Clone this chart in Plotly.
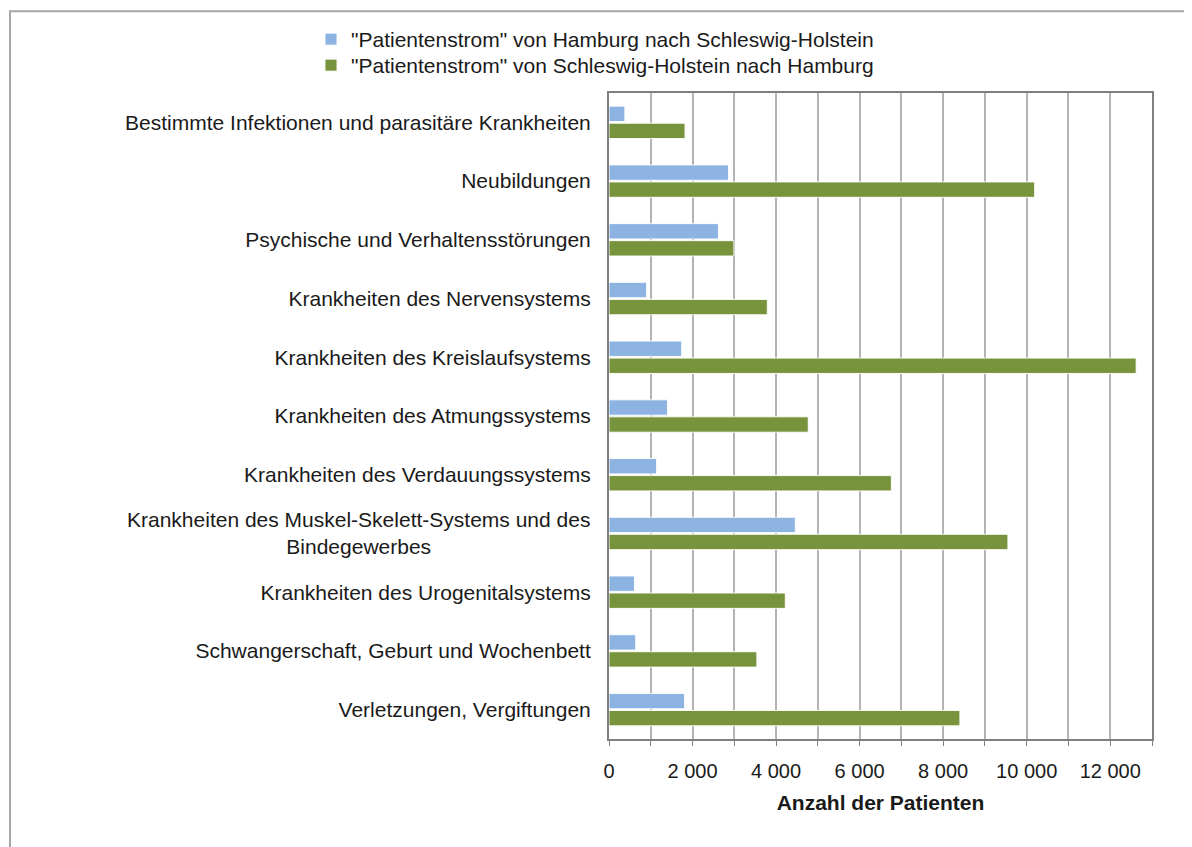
import plotly.graph_objects as go

categories = [
    "Bestimmte Infektionen und parasitäre Krankheiten",
    "Neubildungen",
    "Psychische und Verhaltensstörungen",
    "Krankheiten des Nervensystems",
    "Krankheiten des Kreislaufsystems",
    "Krankheiten des Atmungssystems",
    "Krankheiten des Verdauungssystems",
    "Krankheiten des Muskel-Skelett-Systems und des<br>Bindegewerbes",
    "Krankheiten des Urogenitalsystems",
    "Schwangerschaft, Geburt und Wochenbett",
    "Verletzungen, Vergiftungen",
]
hh_to_sh = [380, 2860, 2620, 900, 1740, 1400, 1140, 4460, 610, 640, 1810]
sh_to_hh = [1820, 10190, 2990, 3790, 12620, 4770, 6760, 9550, 4220, 3540, 8400]
series_names = [
    '"Patientenstrom" von Hamburg nach Schleswig-Holstein',
    '"Patientenstrom" von Schleswig-Holstein nach Hamburg',
]
x_title = "Anzahl der Patienten"

FONT = "Liberation Sans, Arial, sans-serif"
BLUE = "#8DB3E2"
GREEN = "#77933C"
TXT = "#1a1a1a"

# page offset (body margin) = 8 px
OFF = 8
W, H = 1192 - OFF, 847 - OFF
PL, PR, PT, PB = 609, 1152, 92, 739          # plot area in page pixels
L, T = PL - OFF, PT - OFF
R, B = W - (PR - OFF), H - (PB - OFF)
pw, ph = PR - PL, PB - PT


def px_x(page_x):
    return (page_x - PL) / pw


def px_y(page_y):
    return (PB - page_y) / ph


fig = go.Figure()
fig.add_trace(go.Bar(y=categories, x=hh_to_sh, orientation="h", name=series_names[0],
                     legend="legend",
                     marker=dict(color=BLUE, line=dict(color="rgba(255,255,255,0.9)", width=1))))
fig.add_trace(go.Bar(y=categories, x=sh_to_hh, orientation="h", name=series_names[1],
                     legend="legend2",
                     marker=dict(color=GREEN, line=dict(color="rgba(255,255,255,0.9)", width=1))))

multi = categories[7]
ticktext = ["" if c == multi else c for c in categories]

fig.add_annotation(x=0, y=multi, xref="paper", yref="y", text=multi, showarrow=False,
                   xanchor="right", yanchor="middle", xshift=-17, align="center",
                   font=dict(family=FONT, size=21, color=TXT))

fig.add_shape(type="rect", xref="paper", yref="paper",
              x0=px_x(10), x1=px_x(1230), y0=px_y(880), y1=px_y(10),
              line=dict(color="#a6a6a6", width=2), fillcolor="rgba(0,0,0,0)", layer="below")

legend_common = dict(xanchor="left", yanchor="top", bgcolor="rgba(0,0,0,0)",
                     font=dict(family=FONT, size=21, color=TXT))

fig.update_layout(
    width=W, height=H,
    margin=dict(l=L, r=R, t=T, b=B),
    paper_bgcolor="white", plot_bgcolor="white",
    barmode="group", bargap=0.42, bargroupgap=0.1,
    separators=", ",
    font=dict(family=FONT, size=21, color=TXT),
    showlegend=True,
    legend=dict(x=px_x(311), y=px_y(19), **legend_common),
    legend2=dict(x=px_x(311), y=px_y(45), **legend_common),
)
fig.update_xaxes(
    range=[0, 13000], tick0=0, dtick=2000, tickformat=",d",
    showgrid=True, gridcolor="#b3b3b3", gridwidth=1.5,
    minor=dict(dtick=1000, showgrid=True, gridcolor="#b3b3b3", gridwidth=1.5,
               ticks="outside", ticklen=5, tickcolor="#808080"),
    ticks="outside", ticklen=5, tickcolor="#808080",
    showline=True, linecolor="#808080", linewidth=2, mirror=True,
    ticklabelstandoff=8,
    tickfont=dict(family=FONT, size=20, color=TXT),
    title=dict(text="<b>" + x_title + "</b>", standoff=14,
               font=dict(family=FONT, size=21, color=TXT)),
    zeroline=False,
)
fig.update_yaxes(
    type="category", range=[10.5, -0.5],
    tickvals=categories, ticktext=ticktext,
    showline=True, linecolor="#808080", linewidth=2, mirror=True,
    ticks="", ticklabelstandoff=12,
    tickfont=dict(family=FONT, size=21, color=TXT),
    showgrid=False,
)
fig.write_html("out.html")
